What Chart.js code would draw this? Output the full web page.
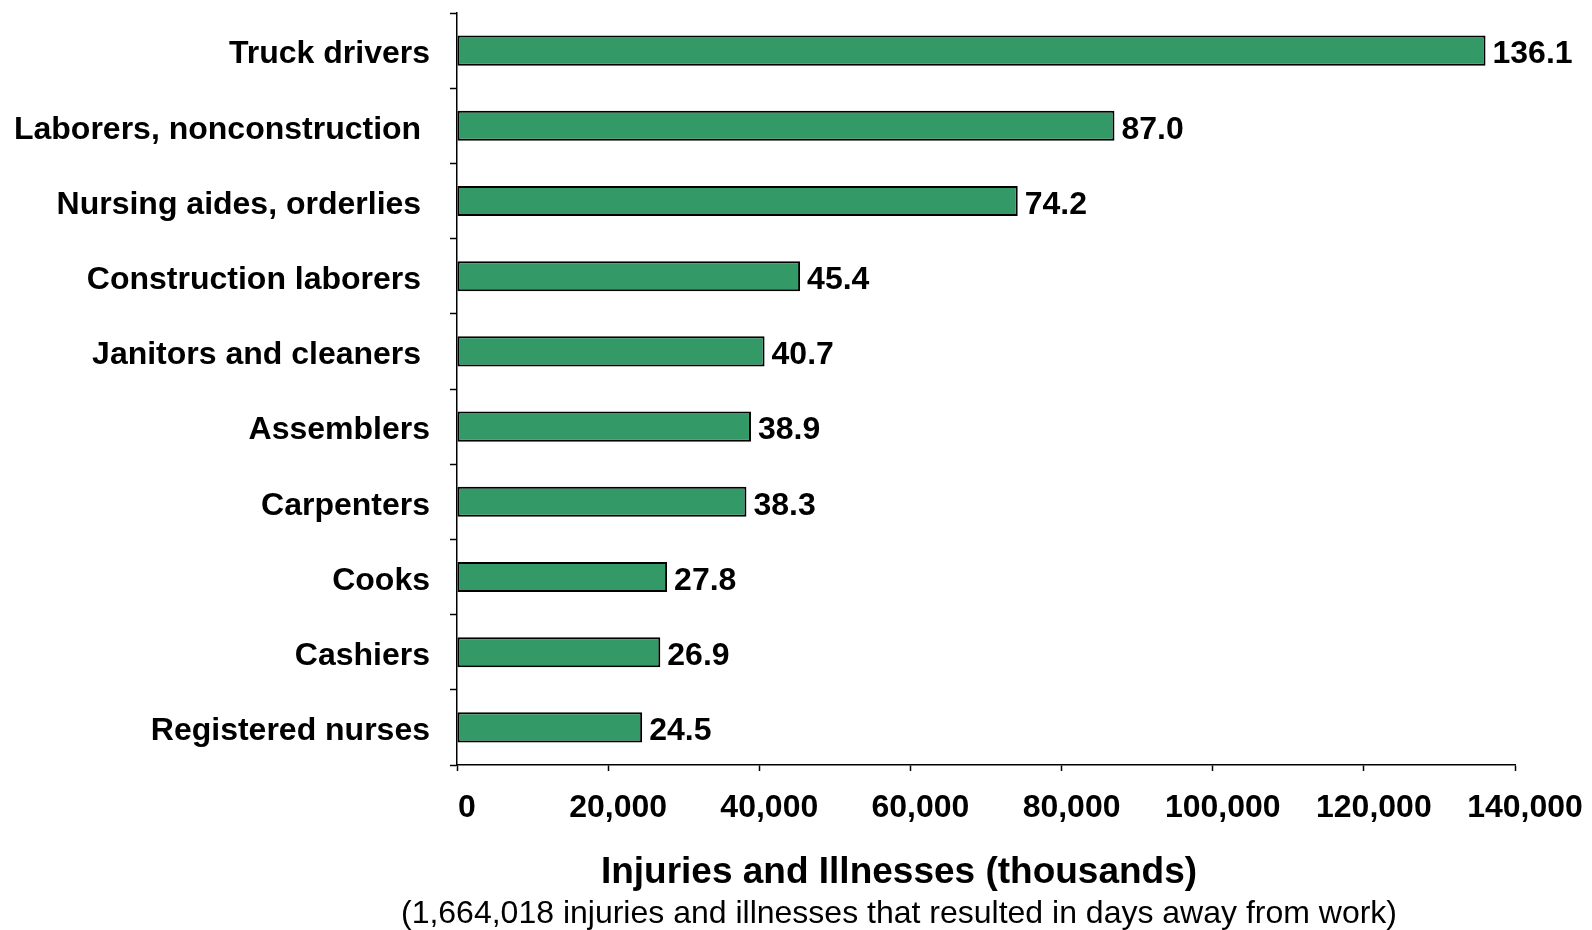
<!DOCTYPE html>
<html>
<head>
<meta charset="utf-8">
<script src="https://cdn.jsdelivr.net/npm/chart.js@4/dist/chart.umd.min.js"></script>
<style>
  html, body { margin: 0; padding: 0; background: #ffffff; }
  #wrap { width: 1592px; height: 930px; }
</style>
</head>
<body>
<div id="wrap"><canvas id="chart" width="1592" height="930"></canvas></div>
<script>
// Occupations with the most injuries and illnesses involving days away from work
const occupations = [
  'Truck drivers',
  'Laborers, nonconstruction ',
  'Nursing aides, orderlies ',
  'Construction laborers ',
  'Janitors and cleaners ',
  'Assemblers',
  'Carpenters',
  'Cooks',
  'Cashiers',
  'Registered nurses'
];
// Cases, in thousands
const casesThousands = [136.1, 87.0, 74.2, 45.4, 40.7, 38.9, 38.3, 27.8, 26.9, 24.5];
const xTickValues = [0, 20000, 40000, 60000, 80000, 100000, 120000, 140000];
const axisTitle = 'Injuries and Illnesses (thousands)';
const axisNote = '(1,664,018 injuries and illnesses that resulted in days away from work)';

const FONT = "'Liberation Sans', Arial, Helvetica, sans-serif";

// Writes each bar's value (in thousands) just past its end
const valueLabels = {
  id: 'valueLabels',
  afterDatasetsDraw(chart) {
    const ctx = chart.ctx;
    const meta = chart.getDatasetMeta(0);
    ctx.save();
    ctx.font = 'bold 32px ' + FONT;
    ctx.fillStyle = '#000000';
    ctx.textAlign = 'left';
    ctx.textBaseline = 'middle';
    meta.data.forEach((bar, i) => {
      ctx.fillText(casesThousands[i].toFixed(1), bar.x + 7, bar.y + 4);
    });
    ctx.restore();
  }
};

// Two-line caption under the value axis
const axisCaption = {
  id: 'axisCaption',
  afterDraw(chart, args, opts) {
    const ctx = chart.ctx;
    ctx.save();
    ctx.fillStyle = '#000000';
    ctx.textAlign = 'center';
    ctx.textBaseline = 'middle';
    ctx.font = 'bold 37px ' + FONT;
    ctx.fillText(axisTitle, opts.x, opts.titleY);
    ctx.font = '32px ' + FONT;
    ctx.fillText(axisNote, opts.x, opts.noteY);
    ctx.restore();
  }
};

new Chart(document.getElementById('chart'), {
  type: 'bar',
  data: {
    labels: occupations,
    datasets: [{
      data: casesThousands.map(v => v * 1000),
      backgroundColor: '#339966',
      borderColor: '#000000',
      borderWidth: 2,
      borderSkipped: false,
      categoryPercentage: 1.0,
      barPercentage: 0.4
    }]
  },
  options: {
    indexAxis: 'y',
    responsive: false,
    animation: false,
    layout: { padding: { left: 10, top: 13, right: 77, bottom: 85 } },
    plugins: {
      legend: { display: false },
      tooltip: { enabled: false },
      title: { display: false },
      axisCaption: { x: 899, titleY: 873, noteY: 914 }
    },
    scales: {
      x: {
        type: 'linear',
        min: 0,
        max: 140000,
        afterBuildTicks(scale) {
          scale.ticks = xTickValues.map(v => ({ value: v }));
        },
        afterFit(scale) {
          scale.height = 80;
          scale.paddingLeft = 0;
          scale.paddingRight = 0;
        },
        border: { display: true, color: '#000000', width: 1.5 },
        grid: {
          display: true,
          drawOnChartArea: false,
          drawTicks: true,
          tickLength: 6,
          tickColor: '#000000',
          tickWidth: 1.5
        },
        ticks: {
          color: '#000000',
          padding: 18,
          labelOffset: 10,
          maxRotation: 0,
          font: { family: FONT, size: 32, weight: 'bold' },
          callback: v => v.toLocaleString('en-US')
        }
      },
      y: {
        afterFit(scale) {
          scale.width = 447;
          scale.paddingTop = 0;
          scale.paddingBottom = 0;
        },
        border: { display: true, color: '#000000', width: 1.5 },
        grid: {
          display: true,
          offset: true,
          drawOnChartArea: false,
          drawTicks: true,
          tickLength: 7,
          tickColor: '#000000',
          tickWidth: 1.5
        },
        ticks: {
          color: '#000000',
          padding: 20,
          labelOffset: 4,
          font: { family: FONT, size: 32, weight: 'bold' }
        }
      }
    }
  },
  plugins: [valueLabels, axisCaption]
});
</script>
</body>
</html>
